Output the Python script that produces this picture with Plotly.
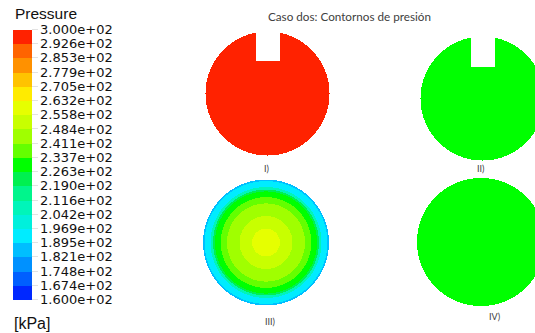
import numpy as np
import plotly.graph_objects as go

# ---------------- data ----------------
title_text = "Caso dos: Contornos de presión"
case_labels = ["I)", "II)", "III)", "IV)"]
# uniform pressure of each case (kPa); case III is a field given by rings
uniform_pressure = [296.0, 230.0, None, 230.0]
# case III: concentric rings (outer radius as fraction of the disc radius) and pressure (kPa)
ring_radius_frac_III = [0.22, 0.42, 0.62, 0.72, 0.81, 0.84, 0.88, 0.975, 1.00]
ring_pressure_III = [259.5, 252.0, 245.0, 237.0, 230.0, 222.0, 208.0, 193.0, 186.0]
# colour legend
p_min, p_max, n_levels = 160.0, 300.0, 19
tick_labels = [  # bottom to top, as printed on the legend
    "1.600e+02", "1.674e+02", "1.748e+02", "1.821e+02", "1.895e+02",
    "1.969e+02", "2.042e+02", "2.116e+02", "2.190e+02", "2.263e+02",
    "2.337e+02", "2.411e+02", "2.484e+02", "2.558e+02", "2.632e+02",
    "2.705e+02", "2.779e+02", "2.853e+02", "2.926e+02", "3.000e+02",
]
band_colors = [  # from lowest (blue) to highest (red)
    "rgb(0,40,255)", "rgb(0,95,255)", "rgb(0,145,255)", "rgb(0,190,255)",
    "rgb(0,236,255)", "rgb(0,240,220)", "rgb(0,245,185)", "rgb(0,245,140)",
    "rgb(0,240,80)", "rgb(0,255,0)", "rgb(100,255,0)", "rgb(160,255,0)",
    "rgb(200,255,0)", "rgb(230,255,0)", "rgb(255,235,0)", "rgb(255,195,0)",
    "rgb(255,145,0)", "rgb(255,100,0)", "rgb(255,34,0)",
]
legend_title = "Pressure"
legend_unit = "[kPa]"

# ---------------- layout geometry (pixels) ----------------
W, H = 535, 333
discs = [  # cx, cy, r, notch (x0, x1, y_bottom) or None
    (267.5, 93.5, 62.0, (256.0, 280.0, 61.0)),
    (482.5, 98.5, 62.0, (471.0, 495.0, 67.0)),
    (266.0, 242.5, 63.0, None),
    (481.0, 242.0, 64.0, None),
]
label_pos = [(266, 168), (480, 168), (270, 321), (494, 316)]

# discrete colorscale
cs = []
for i, c in enumerate(band_colors):
    cs.append([i / n_levels, c])
    cs.append([(i + 1) / n_levels, c])

tick_vals = [p_min + k * (p_max - p_min) / n_levels for k in range(n_levels + 1)]

fig = go.Figure()

for idx, (cx, cy, r, notch) in enumerate(discs):
    xs = np.arange(np.floor(cx - r) - 1, np.ceil(cx + r) + 2) + 0.5
    ys = np.arange(np.floor(cy - r) - 1, np.ceil(cy + r) + 2) + 0.5
    X, Y = np.meshgrid(xs, ys)
    rho = np.hypot(X - cx, Y - cy) / r
    z = np.full(X.shape, np.nan)
    if uniform_pressure[idx] is not None:
        z[rho <= 1.0] = uniform_pressure[idx]
    else:
        for frac, p in sorted(zip(ring_radius_frac_III, ring_pressure_III), reverse=True):
            z[rho <= frac] = p
    if notch is not None:
        nx0, nx1, ny1 = notch
        z[(X >= nx0) & (X <= nx1) & (Y <= ny1)] = np.nan
    fig.add_trace(go.Heatmap(x=xs, y=ys, z=z, coloraxis="coloraxis",
                             hoverinfo="skip", zsmooth=False))

for lab, (lx, ly) in zip(case_labels, label_pos):
    fig.add_annotation(x=lx, y=ly, text=lab, showarrow=False,
                       font=dict(family="Lato", size=9, color="#404040"),
                       xanchor="center", yanchor="middle")

fig.add_annotation(x=349, y=16, text=title_text, showarrow=False,
                   font=dict(family="Lato", size=11.7, color="#404040"),
                   xanchor="center", yanchor="middle")
fig.add_annotation(x=13, y=13, text=legend_title, showarrow=False,
                   font=dict(family="Liberation Sans", size=15.5, color="#111"),
                   xanchor="left", yanchor="middle")
fig.add_annotation(x=12, y=323, text=legend_unit, showarrow=False,
                   font=dict(family="Liberation Sans", size=16, color="#111"),
                   xanchor="left", yanchor="middle")

fig.update_layout(
    width=W, height=H,
    margin=dict(l=0, r=0, t=0, b=0, autoexpand=False),
    paper_bgcolor="white", plot_bgcolor="white",
    showlegend=False,
    xaxis=dict(range=[0, W], visible=False, domain=[0, 1], fixedrange=True),
    yaxis=dict(range=[H, 0], visible=False, domain=[0, 1], fixedrange=True),
    coloraxis=dict(
        cmin=p_min, cmax=p_max, colorscale=cs,
        colorbar=dict(
            x=13 / W, xanchor="left", xpad=0,
            y=1 - 164.5 / H, yanchor="middle", ypad=0,
            len=270, lenmode="pixels", thickness=19, thicknessmode="pixels",
            outlinewidth=0,
            tickmode="array", tickvals=tick_vals, ticktext=tick_labels,
            ticks="outside", ticklen=6, tickcolor="#e2e2e2",
            tickfont=dict(family="DejaVu Sans", size=13, color="#111"),
        ),
    ),
)

fig.write_html(
    "out.html",
    config={"displayModeBar": False},
    post_script="document.body.style.margin='0px';document.body.style.overflow='hidden';",
)
